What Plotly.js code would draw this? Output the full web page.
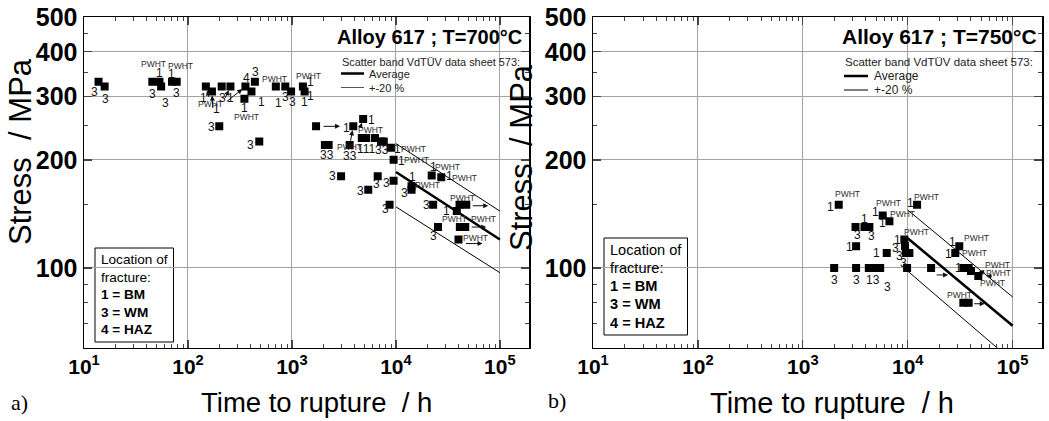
<!DOCTYPE html>
<html><head><meta charset="utf-8">
<script src="https://cdn.plot.ly/plotly-3.0.1.min.js"></script>
<style>html,body{margin:0;padding:0;background:#fff}#chart{width:1049px;height:421px}</style>
</head><body><div id="chart"></div>
<script>
// ---------- DATA ----------
// Panel a) Alloy 617, T = 700 °C : time to rupture [h] and stress [MPa]
const aTime   = [13.8,15.8,45.4,53.2,55.2,70.2,77.9,148.6,170,211,256,357,349,408,440,700,863,981,1275,1324,
                 200,485,1706,3890,4840,2075,2253,3590,4700,5180,6290,7200,7640,8950,9500,
                 2970,6680,5420,9500,14130,14130,8690,22100,27300,22800,40900,47500,38500,25400,41200,46400,40000];
const aStress = [330,320,330,330,320,330,330,320,310,320,320,320,296,310,330,320,320,310,320,310,
                 248,225,248,248,260,220,220,220,230,230,230,225,225,216,200,
                 180,180,165,175,169,165,150,181,179,150,150,150,144,130,130,130,120];
// VdTÜV data sheet 573 scatter band, 700 °C
const aBandTime = [1e4, 1e5];
const aAverage  = [185, 120];
const aUpper    = [222, 144];
const aLower    = [148, 97];

// Panel b) Alloy 617, T = 750 °C
const bTime   = [2200,3180,3870,4310,3220,1990,3220,4260,4640,5110,5460,5780,6690,6310,9290,9430,9640,10370,9860,
                 12280,16700,31000,28400,33900,38100,40100,47100,33900,38100];
const bStress = [150,130,130,130,115,100,100,100,100,100,100,140,135,110,120,115,110,110,100,
                 150,100,115,110,100,100,98,95,80,80];
const bBandTime = [1e4, 1e5];
const bAverage  = [121, 69];
const bUpper    = [145, 83];
const bLower    = [98, 55];

// Tick labels
const xTickVals = [10,100,1000,10000,100000];
const xTickText = ['10<sup>1</sup>','10<sup>2</sup>','10<sup>3</sup>','10<sup>4</sup>','10<sup>5</sup>'];
const yTickVals = [100,200,300,400,500];
const yTickText = ['100','200','300','400','500'];

// Fracture-location labels next to points: [point index, text]
const aLabTxt = [[0,'3'],[1,'3'],[2,'3'],[3,'1'],[3,'PWHT'],[4,'3'],[5,'1'],[5,'PWHT'],[6,'3'],
 [7,'1'],[8,'1'],[9,'3'],[10,'1'],[11,'4'],[12,'1'],[12,'PWHT'],[13,'1'],[14,'3'],
 [15,'PWHT'],[15,'1'],[16,'3'],[17,'3'],[18,'PWHT'],[18,'1'],[19,'1'],[19,'1'],
 [20,'3'],[21,'3'],[23,'1'],[24,'1'],[25,'33'],[27,'33'],[29,'111'],[29,'PWHT'],[31,'33'],
 [33,'1'],[33,'PWHT'],[34,'1'],[34,'PWHT'],[35,'3'],[36,'3'],[37,'3'],[38,'3'],[39,'1'],[39,'PWHT'],[40,'3'],[41,'3'],
 [42,'1'],[42,'PWHT'],[43,'1'],[43,'PWHT'],[44,'3'],[45,'PWHT'],[47,'1'],[48,'3'],[49,'PWHT'],[50,'PWHT'],[51,'PWHT']];
const bLabTxt = [[0,'1'],[0,'PWHT'],[1,'3'],[2,'1'],[3,'3'],[4,'1'],[5,'3'],[6,'3'],[8,'13'],[10,'3'],
 [11,'1'],[11,'PWHT'],[12,'1'],[12,'PWHT'],[13,'1'],[14,'1'],[14,'PWHT'],[15,'3'],[16,'3'],[18,'3'],
 [19,'1'],[19,'PWHT'],[21,'1'],[21,'PWHT'],[22,'1'],[22,'PWHT'],[23,'1'],[25,'PWHT'],[25,'PWHT'],[26,'PWHT'],[27,'PWHT']];

// ---------- placement (pixels) ----------
const aLabOff = [[-4,-10],[1,-12],[0,-12],[0,9],[-6,18],[4,-16],[-1,8],[8,16],[0,-11],
 [-2,-11],[5,-17],[1,-11],[0,-11],[1,9],[0,-9],[2,-18],[10,-10],[1,10],
 [-1,8],[3,-16],[0,-10],[1,-10],[6,11],[8,5],[6,-4],[0,-10],
 [-8,-1],[-9,-3],[-7,-2],[8,-1],[2,-10],[0,-11],[0,-11],[4,8],[1,-8],
 [7,-1],[23,-1],[8,-1],[23,0],[-9,0],[-1,-8],[-8,-1],[-7,-2],[1,9],[16,1],[-7,-3],[-4,-4],
 [2,8],[16,8],[8,1],[23,-1],[-7,0],[3,7],[-10,0],[-5,-9],[-5,8],[18,8],[17,2]];
const bLabOff = [[-8,-2],[9,11],[2,-8],[0,8],[2,-9],[-7,-1],[0,-12],[0,-12],[0,-12],[7,-19],
 [-7,3],[6,12],[-7,-2],[13,7],[-10,0],[-7,0],[12,8],[-10,-2],[-7,-3],[-4,5],
 [-7,2],[9,8],[-7,4],[17,8],[-7,-1],[19,0],[-5,0],[27,6],[28,-2],[14,-7],[-4,8]];

// arrows: [panel, point index, text, tail dx, tail dy, head shift x, head shift y]
const arrows = [
 ['a',7,'PWHT',5,-17,0,0],['a',8,'',1,-18,0,0],['a',10,'',-6,-13,0,0],['a',11,'',-20,-16,0,0],
 ['a',23,'PWHT',-4,-21,0,0],['a',24,'',-3,-9,0,0],
 ['a',22,'',-18,0,24,0],['a',46,'',-17,0,22,-1],['a',50,'',-16,0,21,0],['a',51,'',-18,0,24,-4],
 ['b',20,'',-13,0,17,-7],['b',28,'',-12,0,16,-1],['b',25,'',7,-2,8,0],['b',26,'',7,0,8,0]
];

const W = 1049, H = 421;
const X = px => px / W, Y = py => 1 - py / H;
const FONT = 'Liberation Sans, Arial, sans-serif';

const lab = (txt) => txt === 'PWHT' ? {size: 8.5, color: '#2a2a2a'} : {size: 12, color: '#111'};

function marker(xa, ya, t, s) {
  return {type:'scatter', mode:'markers', x:t, y:s, xaxis:xa, yaxis:ya,
    marker:{symbol:'square', size:8, color:'#000'}, hoverinfo:'skip', showlegend:false};
}
function line(xa, ya, t, s, w) {
  return {type:'scatter', mode:'lines', x:t, y:s, xaxis:xa, yaxis:ya,
    line:{color:'#000', width:w}, hoverinfo:'skip', showlegend:false};
}

const traces = [
  line('x','y',aBandTime,aUpper,1), line('x','y',aBandTime,aLower,1), line('x','y',aBandTime,aAverage,2.6),
  marker('x','y',aTime,aStress),
  line('x2','y2',bBandTime,bUpper,1), line('x2','y2',bBandTime,bLower,1), line('x2','y2',bBandTime,bAverage,2.6),
  marker('x2','y2',bTime,bStress)
];

const annotations = [];
function addLabels(tx, offs, T, S, xr, yr) {
  tx.forEach((l, k) => {
    const f = lab(l[1]);
    annotations.push({x:Math.log10(T[l[0]]), y:Math.log10(S[l[0]]), xref:xr, yref:yr, text:l[1], showarrow:false,
      xshift:offs[k][0], yshift:offs[k][1], font:{family:FONT, size:f.size, color:f.color}});
  });
}
addLabels(aLabTxt, aLabOff, aTime, aStress, 'x', 'y');
addLabels(bLabTxt, bLabOff, bTime, bStress, 'x2', 'y2');

arrows.forEach(a => {
  const T = a[0]==='a' ? aTime : bTime, S = a[0]==='a' ? aStress : bStress;
  annotations.push({x:Math.log10(T[a[1]]), y:Math.log10(S[a[1]]), xref:a[0]==='a'?'x':'x2', yref:a[0]==='a'?'y':'y2',
    text:a[2], showarrow:true, ax:a[3], ay:-a[4], xshift:a[5], yshift:a[6], arrowhead:2, arrowsize:1, arrowwidth:1,
    arrowcolor:'#111', standoff:a[5]===0?4:0, startstandoff:0, font:{family:FONT, size:8.5, color:'#2a2a2a'}});
});

function txt(x, y, t, size, opt) {
  annotations.push(Object.assign({xref:'paper', yref:'paper', x:X(x), y:Y(y), text:t, showarrow:false,
    font:{family:FONT, size:size, color:'#000'}, xanchor:'center', yanchor:'middle'}, opt||{}));
}
// Panel a texts
txt(429, 37, '<b>Alloy 617 ; T=700°C</b>', 20);
txt(340, 62, 'Scatter band VdTÜV data sheet 573:', 10.9, {xanchor:'left', font:{family:FONT,size:10.9,color:'#222'}});
txt(367, 74, 'Average', 11, {xanchor:'left', font:{family:FONT,size:11,color:'#222'}});
txt(367, 88, '+-20 %', 11, {xanchor:'left', font:{family:FONT,size:11,color:'#222'}});
const boxA = ['Location of','fracture:','<b>1 = BM</b>','<b>3 = WM</b>','<b>4 = HAZ</b>'];
boxA.forEach((t,i) => txt(99, 259.5 + i*17.6, t, 13.6, {xanchor:'left'}));
txt(316, 402, 'Time to rupture  / h', 27.5);
txt(20, 152, 'Stress  / MPa', 31, {textangle:-90});
txt(19, 402, 'a)', 22, {font:{family:'Liberation Serif, Times New Roman, serif', size:22, color:'#000'}});
// Panel b texts
txt(939, 37, '<b>Alloy 617 ; T=750°C</b>', 21);
txt(843, 62, 'Scatter band VdTÜV data sheet 573:', 11.5, {xanchor:'left', font:{family:FONT,size:11.5,color:'#222'}});
txt(872, 76, 'Average', 12, {xanchor:'left', font:{family:FONT,size:12,color:'#222'}});
txt(872, 90, '+-20 %', 12, {xanchor:'left', font:{family:FONT,size:12,color:'#222'}});
boxA.forEach((t,i) => txt(607.5, 249.5 + i*18.3, t, 14.6, {xanchor:'left'}));
txt(832, 403, 'Time to rupture  / h', 29);
txt(522, 158, 'Stress  / MPa', 31, {textangle:-90});
txt(557, 400, 'b)', 22, {font:{family:'Liberation Serif, Times New Roman, serif', size:22, color:'#000'}});

const shapes = [
  // white legend backgrounds (hide grid)
  {type:'rect', xref:'paper', yref:'paper', x0:X(333), x1:X(527), y0:Y(95), y1:Y(22), fillcolor:'#fff', line:{width:0}, layer:'between'},
  {type:'rect', xref:'paper', yref:'paper', x0:X(838), x1:X(1040), y0:Y(96), y1:Y(22), fillcolor:'#fff', line:{width:0}, layer:'between'},
  // legend line samples
  {type:'line', xref:'paper', yref:'paper', x0:X(341), x1:X(364), y0:Y(73.5), y1:Y(73.5), line:{color:'#000', width:2.5}},
  {type:'line', xref:'paper', yref:'paper', x0:X(341), x1:X(364), y0:Y(87.5), y1:Y(87.5), line:{color:'#555', width:1}},
  {type:'line', xref:'paper', yref:'paper', x0:X(844), x1:X(868), y0:Y(76), y1:Y(76), line:{color:'#000', width:2.5}},
  {type:'line', xref:'paper', yref:'paper', x0:X(844), x1:X(868), y0:Y(90), y1:Y(90), line:{color:'#000', width:1}},
  // location of fracture boxes
  {type:'rect', xref:'paper', yref:'paper', x0:X(95), x1:X(173.5), y0:Y(342), y1:Y(248), fillcolor:'#fff', line:{color:'#000', width:1}, layer:'between'},
  {type:'rect', xref:'paper', yref:'paper', x0:X(604), x1:X(687.5), y0:Y(335), y1:Y(238), fillcolor:'#fff', line:{color:'#000', width:1}, layer:'between'}
];

const xMinor = [2,3,4,5,6,7,8,9].flatMap(d => [10,100,1000,10000,100000].map(p => d*p));
const yMinor = [60,70,80,90,150,250,350,450];

function xax(dom) {
  return {type:'log', domain:dom, range:[1, 5.28], showgrid:true, gridcolor:'#a3a3a3', gridwidth:1,
    tickvals:xTickVals, ticktext:xTickText.map(t=>'<b>'+t+'</b>'), ticks:'inside', ticklen:8, tickwidth:1.3,
    showline:true, linecolor:'#000', linewidth:1.5, mirror:'allticks', zeroline:false,
    tickfont:{family:FONT, size:21, color:'#000'},
    minor:{tickvals:xMinor, ticks:'inside', ticklen:4, tickwidth:1, showgrid:false}};
}
function yax(anchor) {
  return {type:'log', domain:[Y(347.6), Y(17)], range:[Math.log10(60), Math.log10(500)], anchor:anchor,
    showgrid:true, gridcolor:'#a3a3a3', gridwidth:1,
    tickvals:yTickVals, ticktext:yTickText.map(t=>'<b>'+t+'</b>'), ticks:'inside', ticklen:8, tickwidth:1.3,
    showline:true, linecolor:'#000', linewidth:1.5, mirror:'allticks', zeroline:false,
    tickfont:{family:FONT, size:25, color:'#000'},
    minor:{tickvals:yMinor, ticks:'inside', ticklen:4, tickwidth:1, showgrid:false}};
}

const layout = {
  width:W, height:H, margin:{l:0, r:0, t:0, b:0}, paper_bgcolor:'#fff', plot_bgcolor:'#fff',
  showlegend:false,
  xaxis: Object.assign(xax([X(84), X(529)]), {anchor:'y'}),
  yaxis: yax('x'),
  xaxis2: Object.assign(xax([X(593), X(1042)]), {anchor:'y2'}),
  yaxis2: yax('x2'),
  annotations: annotations, shapes: shapes
};

Plotly.newPlot('chart', traces, layout, {staticPlot:true});
</script></body></html>
